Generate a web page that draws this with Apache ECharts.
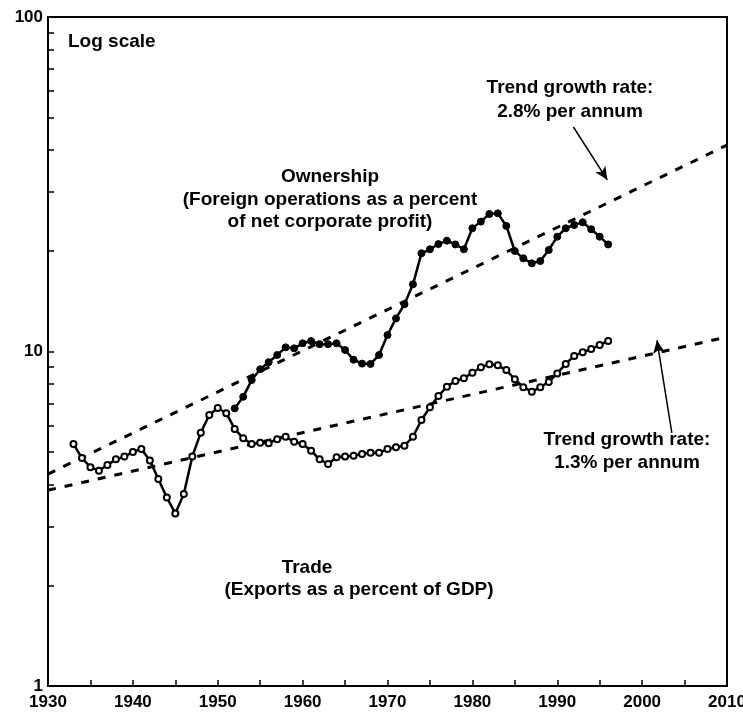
<!DOCTYPE html>
<html>
<head>
<meta charset="utf-8">
<script src="https://cdn.jsdelivr.net/npm/echarts@6/dist/echarts.min.js"></script>
<style>
  html, body { margin: 0; padding: 0; background: #fff; }
  #chart { width: 743px; height: 720px; }
</style>
</head>
<body>
<div id="chart"></div>
<script>
// trade: exports as a percent of GDP
const tradeYears = [1933, 1934, 1935, 1936, 1937, 1938, 1939, 1940, 1941, 1942, 1943, 1944, 1945, 1946, 1947, 1948,
  1949, 1950, 1951, 1952, 1953, 1954, 1955, 1956, 1957, 1958, 1959, 1960, 1961, 1962, 1963, 1964, 1965, 1966, 1967,
  1968, 1969, 1970, 1971, 1972, 1973, 1974, 1975, 1976, 1977, 1978, 1979, 1980, 1981, 1982, 1983, 1984, 1985, 1986,
  1987, 1988, 1989, 1990, 1991, 1992, 1993, 1994, 1995, 1996]
const tradeValues = [5.29, 4.80, 4.51, 4.40, 4.58, 4.76, 4.85, 5.01, 5.11, 4.72, 4.16, 3.66, 3.28, 3.75, 4.85, 5.72,
  6.46, 6.78, 6.54, 5.87, 5.50, 5.29, 5.34, 5.32, 5.47, 5.56, 5.37, 5.29, 5.05, 4.76, 4.61, 4.83, 4.85, 4.88, 4.94,
  4.98, 4.98, 5.11, 5.17, 5.23, 5.56, 6.24, 6.81, 7.36, 7.85, 8.16, 8.32, 8.64, 8.97, 9.16, 9.09, 8.80, 8.26, 7.82,
  7.58, 7.82, 8.11, 8.60, 9.18, 9.70, 9.95, 10.17, 10.46, 10.75]

// ownership: foreign operations as a percent of net corporate profit
const ownYears = [1952, 1953, 1954, 1955, 1956, 1957, 1958, 1959, 1960, 1961, 1962, 1963, 1964, 1965, 1966, 1967,
  1968, 1969, 1970, 1971, 1972, 1973, 1974, 1975, 1976, 1977, 1978, 1979, 1980, 1981, 1982, 1983, 1984, 1985, 1986,
  1987, 1988, 1989, 1990, 1991, 1992, 1993, 1994, 1995, 1996]
const ownValues = [6.76, 7.32, 8.22, 8.85, 9.29, 9.76, 10.29, 10.22, 10.58, 10.75, 10.52, 10.52, 10.58, 10.10, 9.45,
  9.20, 9.18, 9.76, 11.2, 12.56, 13.85, 15.88, 19.66, 20.21, 20.95, 21.45, 20.9, 20.21, 23.36, 24.45, 25.76, 25.88,
  23.73, 19.97, 18.99, 18.35, 18.64, 20.11, 22.04, 23.36, 23.89, 24.33, 23.2, 22.04, 20.9]

// trend lines (end points)
const trendYears = [1930, 2010]
const ownTrend = [4.30, 41.4]
const tradeTrend = [3.85, 11.05]

// arrows pointing at the trend lines
const ownArrow = [[1991.9, 46.9], [1995.9, 32.6]]
const tradeArrow = [[2003.5, 5.71], [2001.75, 10.8]]

// axis ticks
const xLabels = [1930, 1940, 1950, 1960, 1970, 1980, 1990, 2000, 2010]
const xTicks = [1935, 1940, 1945, 1950, 1955, 1960, 1965, 1970, 1975, 1980, 1985, 1990, 1995, 2000, 2005]
const yLabels = [1, 10, 100]
const yTicks = [2, 3, 4, 5, 6, 7, 8, 9, 10, 20, 30, 40, 50, 60, 70, 80, 90]

const font = '"Liberation Sans", Arial, sans-serif'

function pairs (xs, ys) {
  return xs.map((x, i) => [x, ys[i]])
}

// one line of annotation text, centred on (x, y)
function note (text, x, y, align) {
  return {
    type: 'text',
    x: x,
    y: y,
    style: {
      text: text,
      fill: '#000',
      font: 'bold 19px ' + font,
      textAlign: align || 'center',
      textVerticalAlign: 'middle'
    }
  }
}

let myChart = echarts.init(document.getElementById('chart'))

myChart.setOption({
  backgroundColor: '#fff',
  animation: false,
  grid: {
    left: 48,
    right: 16,
    top: 17,
    bottom: 34,
    outerBoundsMode: 'none',
    show: true,
    borderColor: '#000',
    borderWidth: 2
  },
  xAxis: {
    type: 'value',
    min: 1930,
    max: 2010,
    interval: 10,
    axisLine: { lineStyle: { color: '#000', width: 2 } },
    axisTick: {
      inside: true,
      length: 6,
      customValues: xTicks,
      lineStyle: { color: '#000', width: 1.5 }
    },
    axisLabel: {
      customValues: xLabels,
      formatter: v => String(v),
      color: '#000',
      fontFamily: font,
      fontWeight: 'bold',
      fontSize: 17,
      margin: 8
    },
    splitLine: { show: false }
  },
  yAxis: {
    type: 'log',
    logBase: 10,
    min: 1,
    max: 100,
    axisLine: { show: true, lineStyle: { color: '#000', width: 2 } },
    axisTick: {
      inside: true,
      length: 6,
      customValues: yTicks,
      lineStyle: { color: '#000', width: 1.5 }
    },
    axisLabel: {
      customValues: yLabels,
      color: '#000',
      fontFamily: font,
      fontWeight: 'bold',
      fontSize: 17,
      margin: 5
    },
    splitLine: { show: false }
  },
  graphic: [
    note('Log scale', 68, 42, 'left'),
    note('Ownership', 330, 177),
    note('(Foreign operations as a percent', 330, 200),
    note('of net corporate profit)', 330, 222),
    note('Trend growth rate:', 570, 88),
    note('2.8% per annum', 570, 112),
    note('Trend growth rate:', 627, 440),
    note('1.3% per annum', 627, 463),
    note('Trade', 307, 568),
    note('(Exports as a percent of GDP)', 359, 590)
  ],
  series: [
    {
      name: 'Ownership trend',
      type: 'line',
      data: pairs(trendYears, ownTrend),
      showSymbol: false,
      lineStyle: { color: '#000', width: 3, type: [8, 9] },
      markLine: {
        silent: true,
        symbol: ['none', 'arrow'],
        symbolSize: [9, 13],
        label: { show: false },
        lineStyle: { color: '#000', width: 1.5, type: 'solid' },
        data: [[{ coord: ownArrow[0] }, { coord: ownArrow[1] }]]
      }
    },
    {
      name: 'Trade trend',
      type: 'line',
      data: pairs(trendYears, tradeTrend),
      showSymbol: false,
      lineStyle: { color: '#000', width: 3, type: [8, 9] },
      markLine: {
        silent: true,
        symbol: ['none', 'arrow'],
        symbolSize: [9, 13],
        label: { show: false },
        lineStyle: { color: '#000', width: 1.5, type: 'solid' },
        data: [[{ coord: tradeArrow[0] }, { coord: tradeArrow[1] }]]
      }
    },
    {
      name: 'Trade',
      type: 'line',
      data: pairs(tradeYears, tradeValues),
      symbol: 'circle',
      symbolSize: 6,
      itemStyle: { color: '#fff', borderColor: '#000', borderWidth: 2 },
      lineStyle: { color: '#000', width: 2.5 }
    },
    {
      name: 'Ownership',
      type: 'line',
      data: pairs(ownYears, ownValues),
      symbol: 'circle',
      symbolSize: 7,
      itemStyle: { color: '#000', borderColor: '#000', borderWidth: 1 },
      lineStyle: { color: '#000', width: 2.5 }
    }
  ]
})
</script>
</body>
</html>
